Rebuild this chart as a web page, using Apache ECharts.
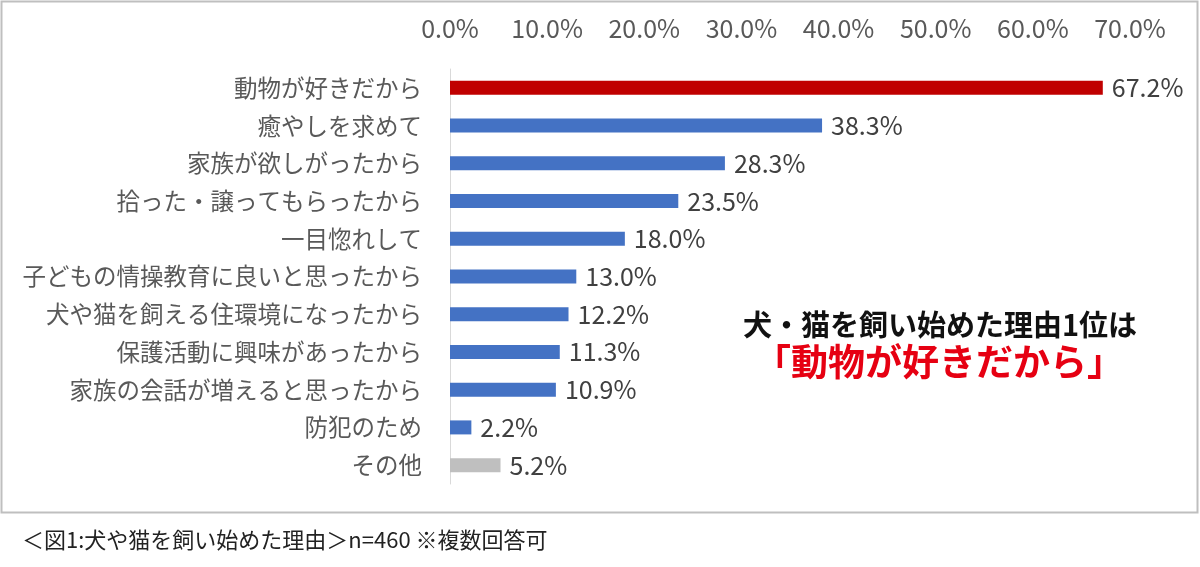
<!DOCTYPE html>
<html>
<head>
<meta charset="utf-8">
<script src="https://cdn.jsdelivr.net/npm/echarts@6/dist/echarts.min.js"></script>
<style>
  html, body { margin: 0; padding: 0; background: #fff; }
  #chart { width: 1200px; height: 567px; }
</style>
</head>
<body>
<div id="chart"></div>
<script>
var categories = [
  '動物が好きだから',
  '癒やしを求めて',
  '家族が欲しがったから',
  '拾った・譲ってもらったから',
  '一目惚れして',
  '子どもの情操教育に良いと思ったから',
  '犬や猫を飼える住環境になったから',
  '保護活動に興味があったから',
  '家族の会話が増えると思ったから',
  '防犯のため',
  'その他'
];
var values = [67.2, 38.3, 28.3, 23.5, 18.0, 13.0, 12.2, 11.3, 10.9, 2.2, 5.2];
var barColors = ['#C00000', '#4472C4', '#4472C4', '#4472C4', '#4472C4', '#4472C4',
  '#4472C4', '#4472C4', '#4472C4', '#4472C4', '#BFBFBF'];

var font = '"Noto Sans CJK JP", "Noto Sans", sans-serif';

var chartDom = document.getElementById('chart');
var myChart = echarts.init(chartDom);
var option;

option = {
  animation: false,
  textStyle: { fontFamily: font },
  grid: {
    left: 450,
    top: 69,
    width: 680,
    height: 415
  },
  xAxis: {
    type: 'value',
    position: 'top',
    min: 0,
    max: 70,
    interval: 10,
    axisLine: { show: false },
    axisTick: { show: false },
    splitLine: { show: false },
    axisLabel: {
      color: '#595959',
      fontSize: 25,
      margin: 28,
      formatter: function (v) { return v.toFixed(1) + '%'; }
    }
  },
  yAxis: {
    type: 'category',
    inverse: true,
    data: categories,
    axisLine: { show: true, lineStyle: { color: '#D9D9D9', width: 1 } },
    axisTick: { show: false },
    axisLabel: {
      color: '#595959',
      fontSize: 23.5,
      margin: 28
    }
  },
  series: [
    {
      type: 'bar',
      barWidth: 14,
      data: values.map(function (v, i) {
        return { value: v, itemStyle: { color: barColors[i] } };
      }),
      label: {
        show: true,
        position: 'right',
        distance: 9,
        color: '#404040',
        fontSize: 25,
        formatter: function (p) { return p.value.toFixed(1) + '%'; }
      }
    }
  ],
  graphic: [
    {
      type: 'rect',
      shape: { x: 1.5, y: 1.5, width: 1196, height: 511 },
      style: { fill: 'none', stroke: '#BFBFBF', lineWidth: 2 },
      silent: true
    },
    {
      type: 'text',
      x: 940,
      y: 325,
      style: {
        text: '犬・猫を飼い始めた理由1位は',
        fill: '#111',
        font: 'bold 29px ' + font,
        align: 'center',
        verticalAlign: 'middle'
      }
    },
    {
      type: 'text',
      x: 939,
      y: 362,
      style: {
        text: '「動物が好きだから」',
        fill: '#E60012',
        font: 'bold 37px ' + font,
        align: 'center',
        verticalAlign: 'middle'
      }
    },
    {
      type: 'text',
      x: 22,
      y: 540,
      style: {
        text: '＜図1:犬や猫を飼い始めた理由＞n=460 ※複数回答可',
        fill: '#222',
        font: '22px ' + font,
        verticalAlign: 'middle'
      }
    }
  ]
};

myChart.setOption(option);
</script>
</body>
</html>
